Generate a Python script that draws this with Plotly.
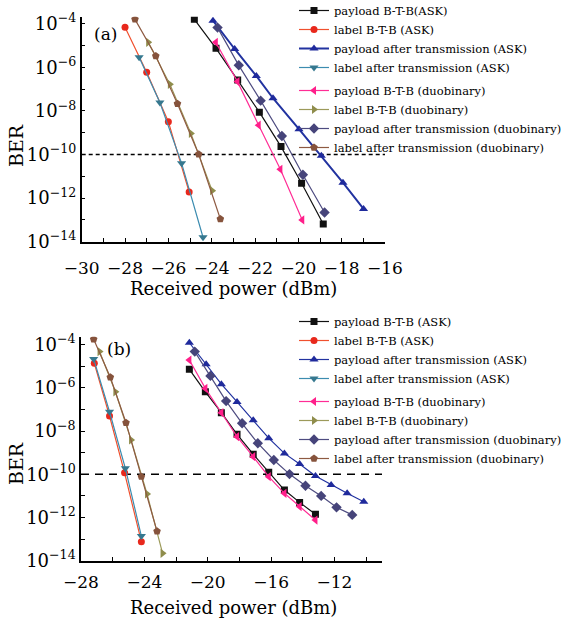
import plotly.graph_objects as go

SERIF = "DejaVu Serif"

# ---------------- data: panel (a) ----------------
names_a = ["payload B-T-B(ASK)", "label B-T-B (ASK)", "payload after transmission (ASK)",
           "label after transmission (ASK)", "payload B-T-B (duobinary)", "label B-T-B (duobinary)",
           "payload after transmission (duobinary)", "label after transmission (duobinary)"]
names_b = ["payload B-T-B (ASK)", "label B-T-B (ASK)", "payload after transmission (ASK)",
           "label after transmission (ASK)", "payload B-T-B (duobinary)", "label B-T-B (duobinary)",
           "payload after transmission (duobinary)", "label after transmission (duobinary)"]

a_payload_btb_ask_x = [-24.8, -23.8, -22.8, -21.8, -20.8, -19.85, -18.85]
a_payload_btb_ask_ber = [1.58e-4, 7.4e-6, 2.6e-7, 8.7e-9, 2.3e-10, 4.8e-12, 6.5e-14]
a_label_btb_ask_x = [-28.0, -27.0, -26.0, -25.04]
a_label_btb_ask_ber = [6.8e-5, 5.9e-7, 3.2e-9, 1.9e-12]
a_payload_tx_ask_x = [-23.94, -22.94, -21.94, -21.17, -19.97, -18.94, -17.94, -16.99]
a_payload_tx_ask_ber = [1.38e-4, 6.9e-6, 4.0e-7, 3.8e-8, 1.45e-9, 8.7e-11, 5.1e-12, 3.2e-13]
a_label_tx_ask_x = [-27.35, -26.39, -25.39, -24.4]
a_label_tx_ask_ber = [2.9e-6, 2.4e-8, 4.0e-11, 1.6e-14]
a_payload_btb_duo_x = [-23.81, -22.81, -21.83, -20.83, -19.82]
a_payload_btb_duo_ber = [1.4e-5, 2.2e-7, 2.2e-9, 2.1e-11, 1.0e-13]
a_label_btb_duo_x = [-26.93, -25.93, -24.96, -23.98]
a_label_btb_duo_ber = [1.4e-5, 1.66e-7, 9.3e-10, 2.2e-12]
a_payload_tx_duo_x = [-23.73, -22.75, -21.74, -20.76, -19.79, -18.79]
a_payload_tx_duo_ber = [6.6e-5, 1.23e-6, 2.95e-8, 7.1e-10, 1.17e-11, 2.2e-13]
a_label_tx_duo_x = [-27.54, -26.58, -25.58, -24.6, -23.6]
a_label_tx_duo_ber = [1.58e-4, 3.3e-6, 2.1e-8, 1.02e-10, 1.1e-13]

# ---------------- data: panel (b) ----------------
b_payload_btb_ask_x = [-21.16, -20.15, -19.14, -18.15, -17.13, -16.15, -15.16, -14.2, -13.2]
b_payload_btb_ask_ber = [7.2e-6, 6.6e-7, 7.1e-8, 7.1e-9, 8.5e-10, 1.23e-10, 1.86e-11, 5.0e-12, 1.4e-12]
b_label_btb_ask_x = [-27.16, -26.2, -25.25, -24.19]
b_label_btb_ask_ber = [1.38e-5, 5.0e-8, 1.17e-10, 7.6e-14]
b_payload_tx_ask_x = [-21.16, -20.1, -19.14, -18.15, -17.13, -16.15, -15.16, -14.2, -13.2, -12.21, -11.2, -10.15]
b_payload_tx_ask_ber = [1.23e-4, 1.23e-5, 1.48e-6, 2.24e-7, 3.2e-8, 4.7e-9, 9.3e-10, 3.0e-10, 8.3e-11,
                        3.2e-11, 1.32e-11, 5.4e-12]
b_label_tx_ask_x = [-27.2, -26.2, -25.2, -24.19]
b_label_tx_ask_ber = [2.2e-5, 7.9e-8, 1.9e-10, 1.38e-13]
b_payload_btb_duo_x = [-21.16, -20.15, -19.14, -18.15, -17.13, -16.15, -15.16, -14.2, -13.2]
b_payload_btb_duo_ber = [1.95e-5, 9.5e-7, 7.1e-8, 5.5e-9, 6.5e-10, 7.8e-11, 1.32e-11, 3.2e-12, 7.6e-13]
b_label_btb_duo_x = [-26.83, -25.83, -24.84, -23.83, -22.85]
b_label_btb_duo_ber = [4.8e-5, 6.6e-7, 3.9e-9, 1.23e-11, 2.2e-14]
b_payload_tx_duo_x = [-20.82, -19.83, -18.84, -17.83, -16.84, -15.83, -14.84, -13.83, -12.84, -11.87, -10.88]
b_payload_tx_duo_ber = [4.8e-5, 3.6e-6, 2.45e-7, 2.3e-8, 2.75e-9, 4.6e-10, 1.02e-10, 2.95e-11, 1.0e-11,
                        2.95e-12, 1.32e-12]
b_label_tx_duo_x = [-27.2, -26.15, -25.16, -24.19, -23.2]
b_label_tx_duo_ber = [1.78e-4, 3.1e-6, 2.45e-8, 7.8e-11, 2.3e-13]

threshold_ber = 1e-10  # BER reference line
xa_range = [-30, -16]
xb_range = [-28, -9]

# ticks
y_tickvals = [1e-4, 1e-6, 1e-8, 1e-10, 1e-12, 1e-14]
y_ticktext = ["10<sup>−4</sup>", "10<sup>−6</sup>", "10<sup>−8</sup>", "10<sup>−10</sup>",
              "10<sup>−12</sup>", "10<sup>−14</sup>"]
y_minorvals = [1e-5, 1e-7, 1e-9, 1e-11, 1e-13]
xa_tickvals = [-30, -28, -26, -24, -22, -20, -18, -16]
xa_ticktext = ["−30", "−28", "−26", "−24", "−22", "−20", "−18", "−16"]
xa_minorvals = [-29, -27, -25, -23, -21, -19, -17]
xb_tickvals = [-28, -24, -20, -16, -12]
xb_ticktext = ["−28", "−24", "−20", "−16", "−12"]
xb_minorvals = [-26, -22, -18, -14, -10]

# styles
colors = ["#111111", "#f0502e", "#2233a0", "#3c8cb0", "#ff2d95", "#9c9a5a", "#4e4c80", "#8e5a42"]
marker_colors = ["#111111", "#e8281c", "#1f2a9c", "#36788f", "#ff1f8a", "#8f8d4c", "#46447a", "#86533c"]
symbols = ["square", "circle", "triangle-up", "triangle-down", "triangle-left", "triangle-right",
           "diamond", "pentagon"]
sizes = [7, 7, 8, 8, 8, 8, 8, 8]

fig = go.Figure()

# threshold reference lines (drawn first, under the curves)
fig.add_trace(go.Scatter(x=xa_range, y=[threshold_ber, threshold_ber], mode="lines", xaxis="x", yaxis="y",
                         line=dict(color="black", width=1.5, dash="4px,3px"), showlegend=False,
                         hoverinfo="skip"))
fig.add_trace(go.Scatter(x=xb_range, y=[threshold_ber, threshold_ber], mode="lines", xaxis="x2", yaxis="y2",
                         line=dict(color="black", width=1.5, dash="8px,6px"), showlegend=False,
                         hoverinfo="skip", cliponaxis=False))

series_a = [(a_payload_btb_ask_x, a_payload_btb_ask_ber), (a_label_btb_ask_x, a_label_btb_ask_ber),
            (a_payload_tx_ask_x, a_payload_tx_ask_ber), (a_label_tx_ask_x, a_label_tx_ask_ber),
            (a_payload_btb_duo_x, a_payload_btb_duo_ber), (a_label_btb_duo_x, a_label_btb_duo_ber),
            (a_payload_tx_duo_x, a_payload_tx_duo_ber), (a_label_tx_duo_x, a_label_tx_duo_ber)]
series_b = [(b_payload_btb_ask_x, b_payload_btb_ask_ber), (b_label_btb_ask_x, b_label_btb_ask_ber),
            (b_payload_tx_ask_x, b_payload_tx_ask_ber), (b_label_tx_ask_x, b_label_tx_ask_ber),
            (b_payload_btb_duo_x, b_payload_btb_duo_ber), (b_label_btb_duo_x, b_label_btb_duo_ber),
            (b_payload_tx_duo_x, b_payload_tx_duo_ber), (b_label_tx_duo_x, b_label_tx_duo_ber)]

for panel, series, names, xa, ya, leg in [("a", series_a, names_a, "x", "y", "legend"),
                                          ("b", series_b, names_b, "x2", "y2", "legend2")]:
    for i, (xs, ys) in enumerate(series):
        lw = 2.0 if (panel == "a" and i == 2) else 1.2
        fig.add_trace(go.Scatter(
            x=xs, y=ys, mode="lines+markers", name=names[i],
            xaxis=xa, yaxis=ya, legend=leg,
            legendgroup=panel + ("ask" if i < 4 else "duo"),
            line=dict(color=colors[i], width=lw),
            marker=dict(symbol=symbols[i], size=sizes[i], color=marker_colors[i], line=dict(width=0)),
        ))

axis_common = dict(showline=True, linecolor="black", linewidth=1.5, ticks="inside", ticklen=4,
                   tickcolor="black", tickwidth=1.2, showgrid=False, zeroline=False, mirror=False,
                   automargin=False)


def minor(vals):
    return dict(tickvals=vals, ticks="inside", ticklen=4, tickcolor="black", tickwidth=1.2, showgrid=False)


legend_common = dict(xanchor="left", yanchor="top", bgcolor="rgba(0,0,0,0)",
                     font=dict(size=11.5, family=SERIF, color="black"), traceorder="grouped",
                     tracegroupgap=4, itemwidth=30)

W, H = 565, 619

fig.update_layout(
    width=W, height=H, margin=dict(l=0, r=0, t=0, b=0, autoexpand=False),
    paper_bgcolor="white", plot_bgcolor="white",
    font=dict(family=SERIF, color="black"),
    xaxis=dict(domain=[81.7 / W, 385 / W], anchor="y", range=xa_range,
               tickvals=xa_tickvals, ticktext=xa_ticktext, minor=minor(xa_minorvals),
               tickfont=dict(size=17, family=SERIF), ticklabelstandoff=10, **axis_common),
    yaxis=dict(domain=[1 - 241.7 / H, 1 - 16.7 / H], anchor="x", type="log", range=[-14, -3.68],
               tickvals=y_tickvals, ticktext=y_ticktext, minor=minor(y_minorvals),
               tickfont=dict(size=18, family=SERIF), **axis_common),
    xaxis2=dict(domain=[81 / W, 382 / W], anchor="y2", range=xb_range,
                tickvals=xb_tickvals, ticktext=xb_ticktext, minor=minor(xb_minorvals),
                tickfont=dict(size=17, family=SERIF), ticklabelstandoff=5, **axis_common),
    yaxis2=dict(domain=[1 - 560.7 / H, 1 - 336.7 / H], anchor="x2", type="log", range=[-14, -3.63],
                tickvals=y_tickvals, ticktext=y_ticktext, minor=minor(y_minorvals),
                tickfont=dict(size=18, family=SERIF), **axis_common),
    legend=dict(x=294 / W, y=1 + 4 / H, **legend_common),
    legend2=dict(x=294 / W, y=1 - 307 / H, **legend_common),
)

ann_common = dict(xref="paper", yref="paper", showarrow=False, xanchor="center", yanchor="middle")
for txt, px, py, size, angle in [("(a)", 105, 34, 17, 0), ("(b)", 119, 349, 17, 0),
                                 ("BER", 16, 146, 19, -90), ("BER", 16, 464, 19, -90),
                                 ("Received power (dBm)", 233, 288, 18, 0),
                                 ("Received power (dBm)", 233, 607, 18, 0)]:
    fig.add_annotation(text=txt, x=px / W, y=1 - py / H, textangle=angle,
                       font=dict(size=size, family=SERIF, color="black"), **ann_common)

fig.write_html("out.html")
